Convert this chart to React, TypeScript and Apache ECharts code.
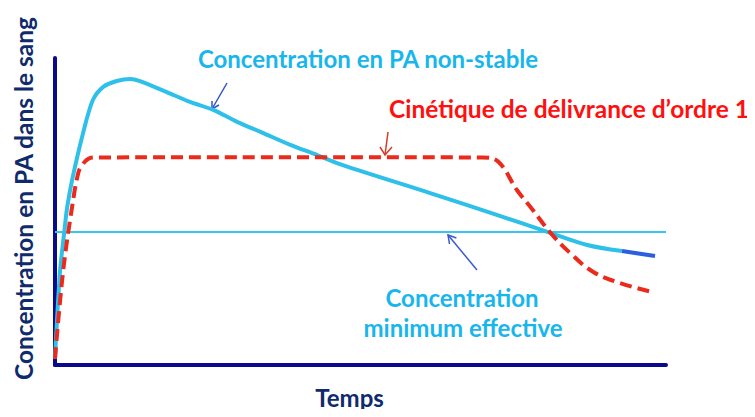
import React, { useEffect, useRef } from "react";
import * as echarts from "echarts";

// Cyan curve: concentration of the non-stable drug (time %, concentration %)
const unstableX = [0, 0.8, 1.5, 2.0, 2.9, 4.6, 6.2, 7.9, 10.1, 12.3, 13.9, 18.3, 22.1, 25.9, 29.8, 34.0, 38.5, 42.9, 47.1, 61.4, 72.3, 80.7, 87.1, 92.8];
const unstableY = [2, 30.0, 43.0, 51.5, 61.2, 75.6, 86.3, 90.6, 92.5, 93.2, 92.5, 88.9, 85.7, 83.1, 79.2, 75.6, 71.7, 68.4, 65.1, 56.0, 48.9, 43.3, 39.1, 37.1];
// dark blue tail of the cyan curve
const tailX = [92.8, 98.2];
const tailY = [37.1, 35.5];
// Red dashed curve: first order delivery kinetics
const orderX = [0, 1.3, 2.8, 3.8, 4.4, 5.4, 6.5, 38, 70.0, 72.6, 75.6, 78.2, 81.0, 84.3, 88.1, 92.5, 97.7];
const orderY = [2, 30.0, 51.5, 62.5, 65.0, 67.1, 67.6, 67.7, 67.6, 66.1, 57.0, 50.5, 43.3, 36.5, 30.3, 26.7, 23.8];
// Minimum effective concentration
const mecX = [0, 100];
const mecY = [43.3, 43.3];

const labels = {
  yTitle: "Concentration en PA dans le sang",
  xTitle: "Temps",
  unstable: "Concentration en PA non-stable",
  order: "Cinétique de délivrance d’ordre 1",
  mec1: "Concentration",
  mec2: "minimum effective",
};

const zip = (xs: number[], ys: number[]) => xs.map((x, i) => [x, ys[i]]);

const FONT = "Lato";
const NAVY = "#0f2b6c";
const CYAN = "#18b6ec";

export default function App() {
  const ref = useRef<HTMLDivElement>(null);
  useEffect(() => {
    if (!ref.current) return;
    const chart = echarts.init(ref.current, undefined, { renderer: "svg" });
    const arrow = (x1: number, y1: number, x2: number, y2: number, a1: number[], a2: number[], color: string) => ({
      type: "group",
      children: [
        { type: "line", shape: { x1, y1, x2, y2 }, style: { stroke: color, lineWidth: 1.5 } },
        { type: "polyline", shape: { points: [a1, [x2, y2], a2] }, style: { stroke: color, lineWidth: 1.5, fill: "none" } },
      ],
    });
    chart.setOption({
      animation: false,
      grid: { left: 55, right: 89, top: 58, bottom: 52 },
      xAxis: {
        type: "value",
        min: 0,
        max: 100,
        name: labels.xTitle,
        nameLocation: "middle",
        nameGap: 20,
        nameTextStyle: { fontFamily: FONT, fontWeight: "bold", fontSize: 24, color: NAVY, padding: [0, 22, 0, 0] },
        axisLine: { show: true, lineStyle: { color: "#0a0a8c", width: 4 } },
        axisTick: { show: false },
        axisLabel: { show: false },
        splitLine: { show: false },
      },
      yAxis: {
        type: "value",
        min: 0,
        max: 100,
        name: labels.yTitle,
        nameLocation: "middle",
        nameGap: 19,
        nameRotate: 90,
        nameTextStyle: { fontFamily: FONT, fontWeight: "bold", fontSize: 24.5, color: NAVY, padding: [0, 0, 0, 26] },
        axisLine: { show: true, lineStyle: { color: "#0a0a8c", width: 4 } },
        axisTick: { show: false },
        axisLabel: { show: false },
        splitLine: { show: false },
      },
      series: [
        {
          type: "line",
          data: zip(mecX, mecY),
          symbol: "none",
          lineStyle: { color: "#38c6ee", width: 2 },
          z: 1,
        },
        {
          type: "line",
          data: zip(unstableX, unstableY),
          symbol: "none",
          smooth: 0.3,
          lineStyle: { color: "#2ec0e8", width: 4 },
          z: 2,
        },
        {
          type: "line",
          data: zip(tailX, tailY),
          symbol: "none",
          lineStyle: { color: "#2a5fe0", width: 4 },
          z: 2,
        },
        {
          type: "line",
          data: zip(orderX, orderY),
          symbol: "none",
          smooth: 0.4,
          lineStyle: { color: "#ea2a1c", width: 4, type: [12, 6] },
          z: 3,
        },
      ],
      graphic: [
        { type: "text", style: { text: labels.unstable, x: 368, y: 58, align: "center", verticalAlign: "middle", fill: CYAN, font: `bold 24px ${FONT}` } },
        { type: "text", style: { text: labels.order, x: 569, y: 108, align: "center", verticalAlign: "middle", fill: "#ff1010", font: `bold 24.5px ${FONT}` } },
        { type: "text", style: { text: labels.mec1, x: 462, y: 297, align: "center", verticalAlign: "middle", fill: CYAN, font: `bold 24px ${FONT}` } },
        { type: "text", style: { text: labels.mec2, x: 463, y: 327, align: "center", verticalAlign: "middle", fill: CYAN, font: `bold 24px ${FONT}` } },
        arrow(227, 83, 212, 109, [219, 105], [212, 101], "#2e55c8"),
        arrow(388, 132, 385, 155, [380, 147], [392, 147], "#d83a2a"),
        arrow(477, 270, 448, 235, [449.5, 244], [456.4, 238], "#3a5ad0"),
      ],
    });
    return () => chart.dispose();
  }, []);
  return <div ref={ref} style={{ width: 755, height: 417, margin: -8 }} />;
}
